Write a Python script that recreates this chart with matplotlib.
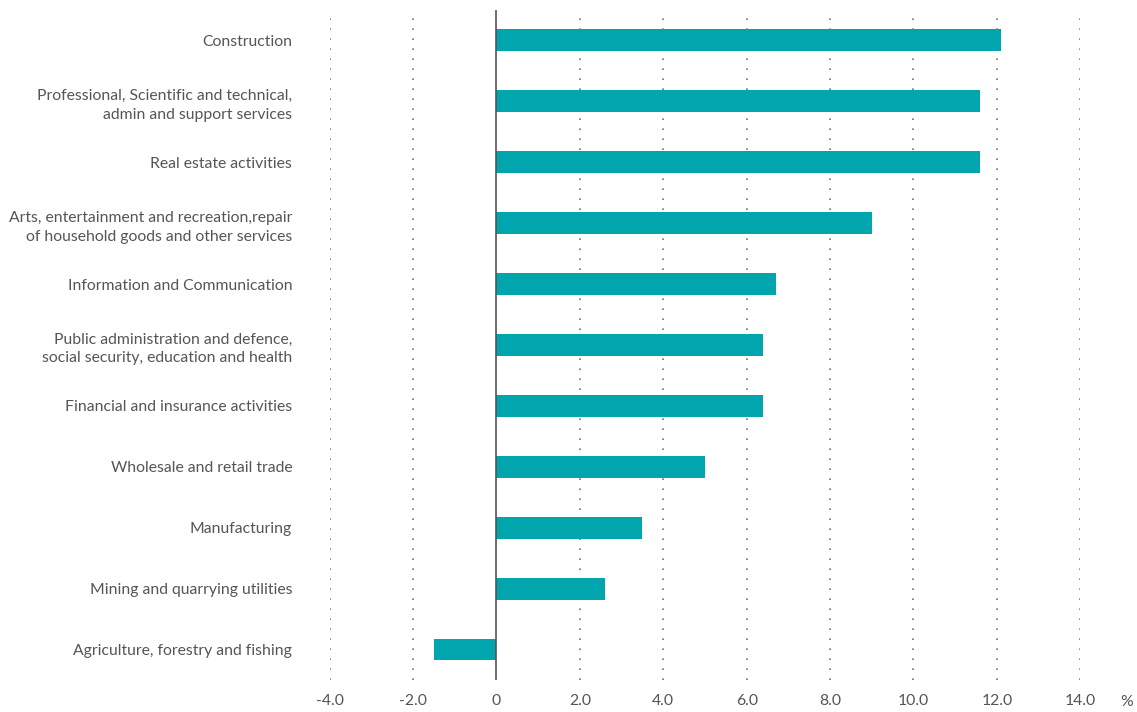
import matplotlib.pyplot as plt
import numpy as np

# sectors, bottom to top
sectors = [
    "Agriculture, forestry and fishing",
    "Mining and quarrying utilities",
    "Manufacturing",
    "Wholesale and retail trade",
    "Financial and insurance activities",
    "Public administration and defence,\nsocial security, education and health",
    "Information and Communication",
    "Arts, entertainment and recreation,repair\nof household goods and other services",
    "Real estate activities",
    "Professional, Scientific and technical,\nadmin and support services",
    "Construction",
]
growth = [-1.5, 2.6, 3.5, 5.0, 6.4, 6.4, 6.7, 9.0, 11.6, 11.6, 12.1]

xticks = [-4, -2, 0, 2, 4, 6, 8, 10, 12, 14]
xtick_labels = ["-4.0", "-2.0", "0", "2.0", "4.0", "6.0", "8.0", "10.0", "12.0", "14.0"]

plt.rcParams['font.family'] = ['Lato', 'DejaVu Sans']
text_col = "#555555"

fig = plt.figure(figsize=(11.37, 7.12), dpi=100)
ax = fig.add_axes([0.290, 0.045, 0.660, 0.941])

y = np.arange(len(sectors))
ax.barh(y, growth, height=0.36, color="#00A5AD", zorder=3)

ax.set_xlim(-4, 14)
ax.set_ylim(-0.5, 10.5)

for xt in xticks:
    if xt == 0:
        continue
    ax.axvline(xt, color="#777777", lw=1.2, ls=(0, (1, 5)), zorder=1)
ax.axvline(0, color="#555555", lw=1.2, zorder=4)

ax.set_xticks(xticks)
ax.set_xticklabels(xtick_labels)
ax.set_yticks(y)
ax.set_yticklabels(sectors, linespacing=1.45)

ax.tick_params(axis="both", length=0, colors=text_col, labelsize=11.3)
ax.tick_params(axis="y", pad=27)
ax.tick_params(axis="x", pad=10)

for s in ax.spines.values():
    s.set_visible(False)

fig.text(1127 / 1137, 1 - 702 / 712, "%", ha="center", va="center",
         color=text_col, fontsize=11.3)

fig.savefig("out.png", dpi=100)
